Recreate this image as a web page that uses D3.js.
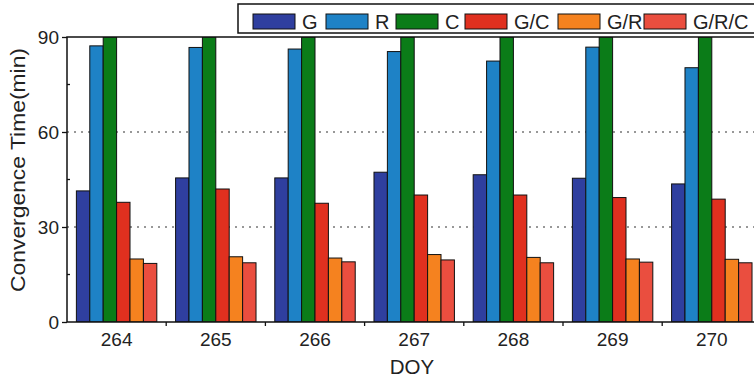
<!DOCTYPE html>
<html><head><meta charset="utf-8">
<script src="https://cdn.jsdelivr.net/npm/d3@7"></script>
<style>body{margin:0;background:#fff}svg{display:block}</style>
</head><body><svg id="c" width="754" height="378"></svg>
<script>
const days = ["264","265","266","267","268","269","270"];
const seriesNames = ["G","R","C","G/C","G/R","G/R/C"];
const seriesColors = ["#2f3f9f","#1e82c6","#0b7c18","#e0301f","#f5821f","#ea4e3f"];
const valG   = [41.4,45.5,45.5,47.3,46.5,45.4,43.6];
const valR   = [87.2,86.7,86.2,85.4,82.4,86.8,80.3];
const valC   = [90,90,90,90,90,90,90];
const valGC  = [37.8,42.0,37.5,40.1,40.1,39.3,38.8];
const valGR  = [19.9,20.6,20.2,21.3,20.4,19.9,19.8];
const valGRC = [18.5,18.7,19.0,19.6,18.7,18.9,18.7];
const yTicks = [0,30,60,90];
const yMinor = [15,45,75];
const gridVals = [30,60];

const series = [valG,valR,valC,valGC,valGR,valGRC];
const svg = d3.select("#c");
const L=67, T=37, B=322, R=761.4;
const x0 = d3.scaleBand().domain(days).range([L,R]).padding(0);
const x1 = d3.scaleBand().domain(seriesNames).range([0,x0.bandwidth()]).paddingInner(0).paddingOuter(0.7);
const y = d3.scaleLinear().domain([0,90]).range([B,T]);
const font = "Liberation Sans, Arial, sans-serif";

svg.append("defs").append("clipPath").attr("id","clip").append("rect")
  .attr("x",L).attr("y",T).attr("width",R-L).attr("height",B-T);

// grid
svg.append("g").selectAll("line").data(gridVals).join("line")
  .attr("x1",L).attr("x2",R).attr("y1",d=>y(d)).attr("y2",d=>y(d))
  .attr("stroke","#777").attr("stroke-width",1.3).attr("stroke-dasharray","2,5");

// bars
const gb = svg.append("g").attr("clip-path","url(#clip)");
days.forEach((d,i)=>{
  seriesNames.forEach((s,j)=>{
    const v = series[j][i];
    gb.append("rect").attr("x",x0(d)+x1(s)).attr("y",y(v))
      .attr("width",x1.bandwidth()).attr("height",y(0)-y(v))
      .attr("fill",seriesColors[j]).attr("stroke","#111").attr("stroke-width",1);
  });
});

// frame
svg.append("rect").attr("x",L).attr("y",T).attr("width",R-L).attr("height",B-T)
  .attr("fill","none").attr("stroke","#111").attr("stroke-width",1.5);

// y axis
const yAx = svg.append("g").attr("transform",`translate(${L},0)`)
  .call(d3.axisLeft(y).tickValues(yTicks).tickSize(5).tickPadding(3));
yAx.select(".domain").remove();
yAx.selectAll("text").attr("font-family",font).attr("font-size",19).attr("fill","#222");
yAx.selectAll("line").attr("stroke","#111").attr("stroke-width",1.3);
svg.append("g").selectAll("line").data(yMinor).join("line")
  .attr("x1",L).attr("x2",L+3).attr("y1",d=>y(d)).attr("y2",d=>y(d))
  .attr("stroke","#111").attr("stroke-width",1.3);

// x axis
const xAx = svg.append("g").attr("transform",`translate(0,${B})`)
  .call(d3.axisBottom(x0).tickSize(0).tickPadding(11));
xAx.select(".domain").remove();
xAx.selectAll("text").attr("font-family",font).attr("font-size",19).attr("fill","#222");
svg.append("g").selectAll("line").data(days.slice(1)).join("line")
  .attr("x1",d=>x0(d)).attr("x2",d=>x0(d)).attr("y1",B).attr("y2",B+4)
  .attr("stroke","#111").attr("stroke-width",1.3);

// titles
svg.append("text").attr("x",412).attr("y",374).attr("text-anchor","middle")
  .attr("font-family",font).attr("font-size",20.5).attr("fill","#222").text("DOY");
svg.append("text").attr("transform","translate(25,170) rotate(-90)").attr("text-anchor","middle")
  .attr("font-family",font).attr("font-size",21).attr("fill","#222")
  .attr("textLength",244).attr("lengthAdjust","spacingAndGlyphs").text("Convergence Time(min)");

// legend
svg.append("rect").attr("x",238).attr("y",4).attr("width",540).attr("height",29)
  .attr("fill","#fff").attr("stroke","#111").attr("stroke-width",1.5);
const legX = [253,326,396,465,558,644];
const lg = svg.append("g");
seriesNames.forEach((s,j)=>{
  lg.append("rect").attr("x",legX[j]).attr("y",14).attr("width",42).attr("height",15)
    .attr("fill",seriesColors[j]).attr("stroke","#111").attr("stroke-width",1);
  lg.append("text").attr("x",legX[j]+49).attr("y",29).attr("font-family",font)
    .attr("font-size",20).attr("fill","#222").text(s);
});
</script></body></html>
